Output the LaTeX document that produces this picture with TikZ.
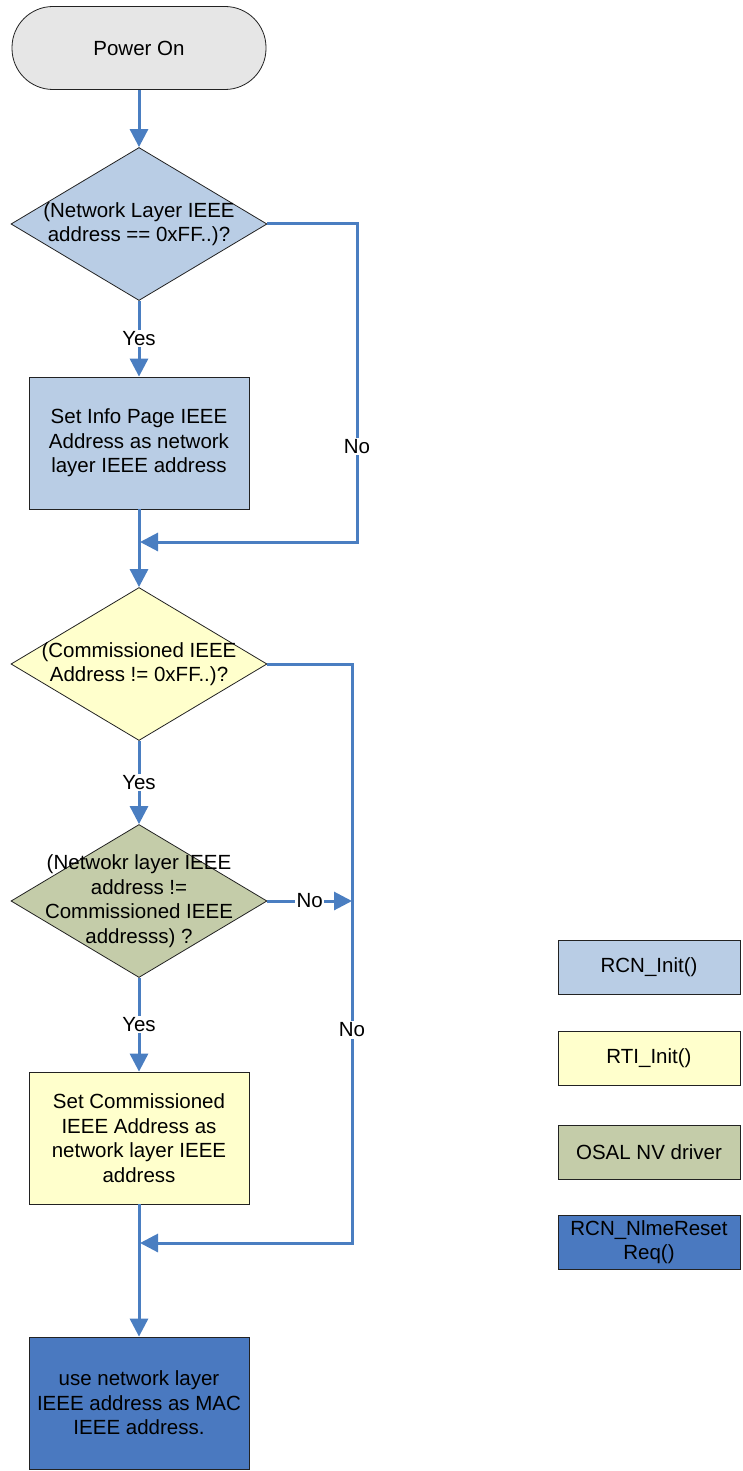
\documentclass[tikz,border=0pt]{standalone}
\usepackage{fontspec}
\setmainfont{Liberation Sans}
\usetikzlibrary{arrows.meta,shapes.geometric}
\definecolor{cgray}{HTML}{E6E6E6}
\definecolor{clblue}{HTML}{B9CDE5}
\definecolor{cyellow}{HTML}{FFFFCC}
\definecolor{colive}{HTML}{C4CCA9}
\definecolor{cdblue}{HTML}{4A79C0}
\definecolor{cline}{HTML}{4A7EC1}
\definecolor{cborder}{HTML}{222222}
\tikzset{
  every node/.style={font=\fontsize{20.5}{24.5}\selectfont},
  term/.style={draw=cborder, line width=0.8pt, fill=cgray, rectangle, rounded corners=41pt, minimum width=254pt, minimum height=83pt, inner sep=0pt},
  dec/.style={draw=cborder, line width=0.8pt, diamond, minimum width=256pt, minimum height=153pt, inner sep=0pt},
  proc/.style={draw=cborder, line width=0.8pt, rectangle, minimum width=220pt, minimum height=132pt, inner sep=0pt},
  legend/.style={draw=cborder, line width=0.8pt, rectangle, minimum width=182pt, minimum height=54pt, inner sep=0pt, align=center},
  txt/.style={align=center, inner sep=0pt},
  conn/.style={draw=cline, line width=3pt},
  arr/.style={conn, -{Triangle[width=18pt,length=18pt]}},
  lbl/.style={fill=white, inner sep=1.5pt, text=black}
}
\begin{document}
\begin{tikzpicture}[x=1pt,y=-1pt]
\useasboundingbox (0,0) rectangle (743,1471);
% nodes
\node[term] (pwr) at (139,48) {Power On};
\node[dec, fill=clblue] (d1) at (139,224) {};
\node[txt] (d1t) at (d1.center) {(Network Layer IEEE\\address == 0xFF..)?};
\node[proc, fill=clblue] (b1) at (139,443) {};
\node[txt] (b1t) at (b1.center) {Set Info Page IEEE\\Address as network\\layer IEEE address};
\node[dec, fill=cyellow] (d2) at (139,664) {};
\node[txt] (d2t) at (d2.center) {(Commissioned IEEE\\Address != 0xFF..)?};
\node[dec, fill=colive] (d3) at (139,901) {};
\node[txt] (d3t) at (d3.center) {(Netwokr layer IEEE\\address !=\\Commissioned IEEE\\addresss) ?};
\node[proc, fill=cyellow] (b2) at (139,1138) {};
\node[txt] (b2t) at (b2.center) {Set Commissioned\\IEEE Address as\\network layer IEEE\\address};
\node[proc, fill=cdblue] (b3) at (139,1403) {};
\node[txt] (b3t) at (b3.center) {use network layer\\IEEE address as MAC\\IEEE address.};
% legend
\node[legend, fill=clblue] (l1) at (649,967) {RCN\_Init()};
\node[legend, fill=cyellow] (l2) at (649,1058) {RTI\_Init()};
\node[legend, fill=colive] (l3) at (649,1152) {OSAL NV driver};
\node[legend, fill=cdblue] (l4) at (649,1242) {RCN\_NlmeReset\\Req()};
% coordinates
\coordinate (j1) at (139,542);
\coordinate (c1a) at (357,224);
\coordinate (c1b) at (357,542);
\coordinate (j2) at (139,1243);
\coordinate (c2a) at (352,664);
\coordinate (c2b) at (352,1243);
\coordinate (c3) at (352,901);
% connectors
\draw[arr] (pwr.south) -- (d1.north);
\draw[arr] (d1.south) -- node[lbl] {Yes} (b1.north);
\draw[conn] (b1.south) -- (j1);
\draw[arr] (j1) -- (d2.north);
\draw[arr, line join=miter] (d1.east) -- (c1a) -- node[lbl, pos=0.70] {No} (c1b) -- ([xshift=1pt]j1);
\draw[arr] (d2.south) -- node[lbl] {Yes} (d3.north);
\draw[arr, line join=miter] (d2.east) -- (c2a) -- node[lbl, pos=0.632] {No} (c2b) -- ([xshift=1pt]j2);
\draw[arr] (d3.east) -- node[lbl] {No} (c3);
\draw[arr] (d3.south) -- node[lbl] {Yes} (b2.north);
\draw[conn] (b2.south) -- (j2);
\draw[arr] (j2) -- (b3.north);
\end{tikzpicture}
\end{document}
